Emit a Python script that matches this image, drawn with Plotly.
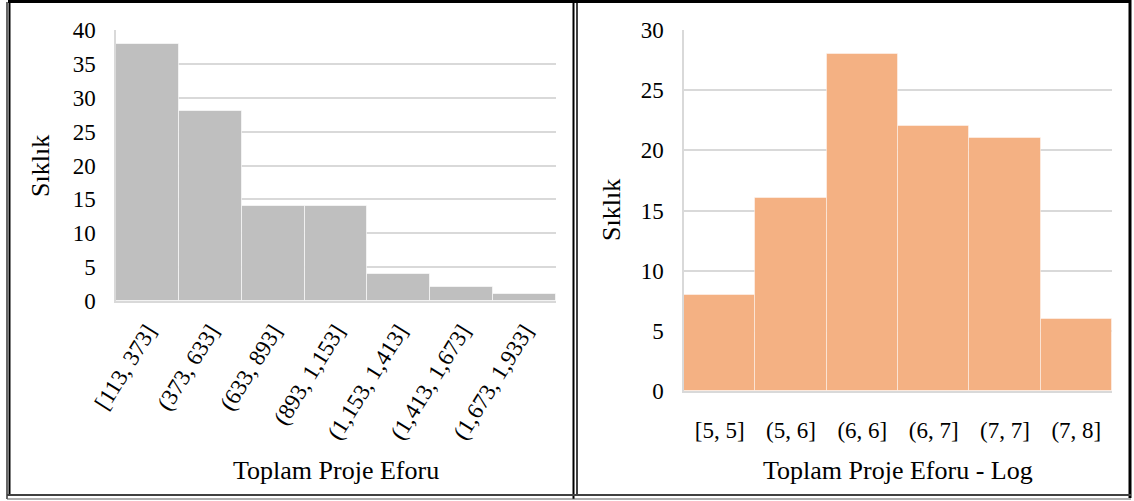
import plotly.graph_objects as go

W, H = 1134, 501

# Raw effort histogram
raw_bins = ["[113, 373]", "(373, 633]", "(633, 893]", "(893, 1,153]",
            "(1,153, 1,413]", "(1,413, 1,673]", "(1,673, 1,933]"]
raw_counts = [38, 28, 14, 14, 4, 2, 1]

# Log-transformed effort histogram
log_bins = ["[5, 5]", "(5, 6]", "(6, 6]", "(6, 7]", "(7, 7]", "(7, 8]"]
log_counts = [8, 16, 28, 22, 21, 6]

y_title = "Sıklık"
x_title_raw = "Toplam Proje Eforu"
x_title_log = "Toplam Proje Eforu - Log"

FONT = "Liberation Serif"
GRID = "#D9D9D9"


def px_x(v):
    return v / W


def px_y(v):
    return 1 - v / H


fig = go.Figure()
fig.add_trace(go.Bar(x=raw_bins, y=raw_counts, xaxis="x", yaxis="y",
                     marker=dict(color="#BFBFBF",
                                 line=dict(color="rgba(255,255,255,0.6)", width=1))))
fig.add_trace(go.Bar(x=log_bins, y=log_counts, xaxis="x2", yaxis="y2",
                     marker=dict(color="#F4B183",
                                 line=dict(color="rgba(255,255,255,0.45)", width=1))))

tick_font = dict(family=FONT, size=23, color="black")
common_x = dict(type="category", showgrid=False, showline=True, linecolor=GRID,
                linewidth=1.5, ticks="", tickfont=tick_font, automargin=False,
                fixedrange=True)
common_y = dict(showgrid=True, gridcolor=GRID, gridwidth=1.5, zeroline=False,
                showline=True, linecolor=GRID, linewidth=1.5, ticks="",
                tickfont=tick_font, automargin=False, ticklabelstandoff=14)

fig.update_layout(
    width=W, height=H,
    margin=dict(l=0, r=0, t=0, b=0),
    paper_bgcolor="white", plot_bgcolor="white",
    showlegend=False, bargap=0,
    font=dict(family=FONT, color="black"),
    xaxis=dict(common_x, domain=[px_x(116), px_x(556)], anchor="y",
               tickangle=-58, ticklabelstandoff=6),
    yaxis=dict(common_y, domain=[px_y(301), px_y(30)], anchor="x",
               range=[0, 40], dtick=5),
    xaxis2=dict(common_x, domain=[px_x(684), px_x(1112)], anchor="y2",
                tickangle=0, ticklabelstandoff=18),
    yaxis2=dict(common_y, domain=[px_y(391), px_y(30)], anchor="x2",
                range=[0, 30], dtick=5),
)

title_font = dict(family=FONT, size=26, color="black")
annotations = [
    dict(text=y_title, x=px_x(40), y=px_y(166), textangle=-90),
    dict(text=y_title, x=px_x(611), y=px_y(210), textangle=-90),
    dict(text=x_title_raw, x=px_x(336), y=px_y(470)),
    dict(text=x_title_log, x=px_x(898), y=px_y(470)),
]
for a in annotations:
    fig.add_annotation(xref="paper", yref="paper", showarrow=False,
                       xanchor="center", yanchor="middle", font=title_font, **a)

# Double-ruled table frame around the two panels
frame = [
    (8, 1.5, 1131, 1.5, 3, "black"),
    (7, 2, 7, 499, 1.2, "black"),
    (9.5, 2, 9.5, 495, 2, "black"),
    (573.5, 0, 573.5, 499, 2, "black"),
    (577, 0, 577, 495, 1.5, "black"),
    (1130, 0, 1130, 498, 3, "black"),
    (7, 495, 1131, 495, 2, "#404040"),
    (7, 499, 1131, 499, 1.2, "#606060"),
]
for x0, y0, x1, y1, w, c in frame:
    fig.add_shape(type="line", xref="paper", yref="paper",
                  x0=px_x(x0), y0=px_y(y0), x1=px_x(x1), y1=px_y(y1),
                  line=dict(color=c, width=w))

fig.write_html("out.html")
